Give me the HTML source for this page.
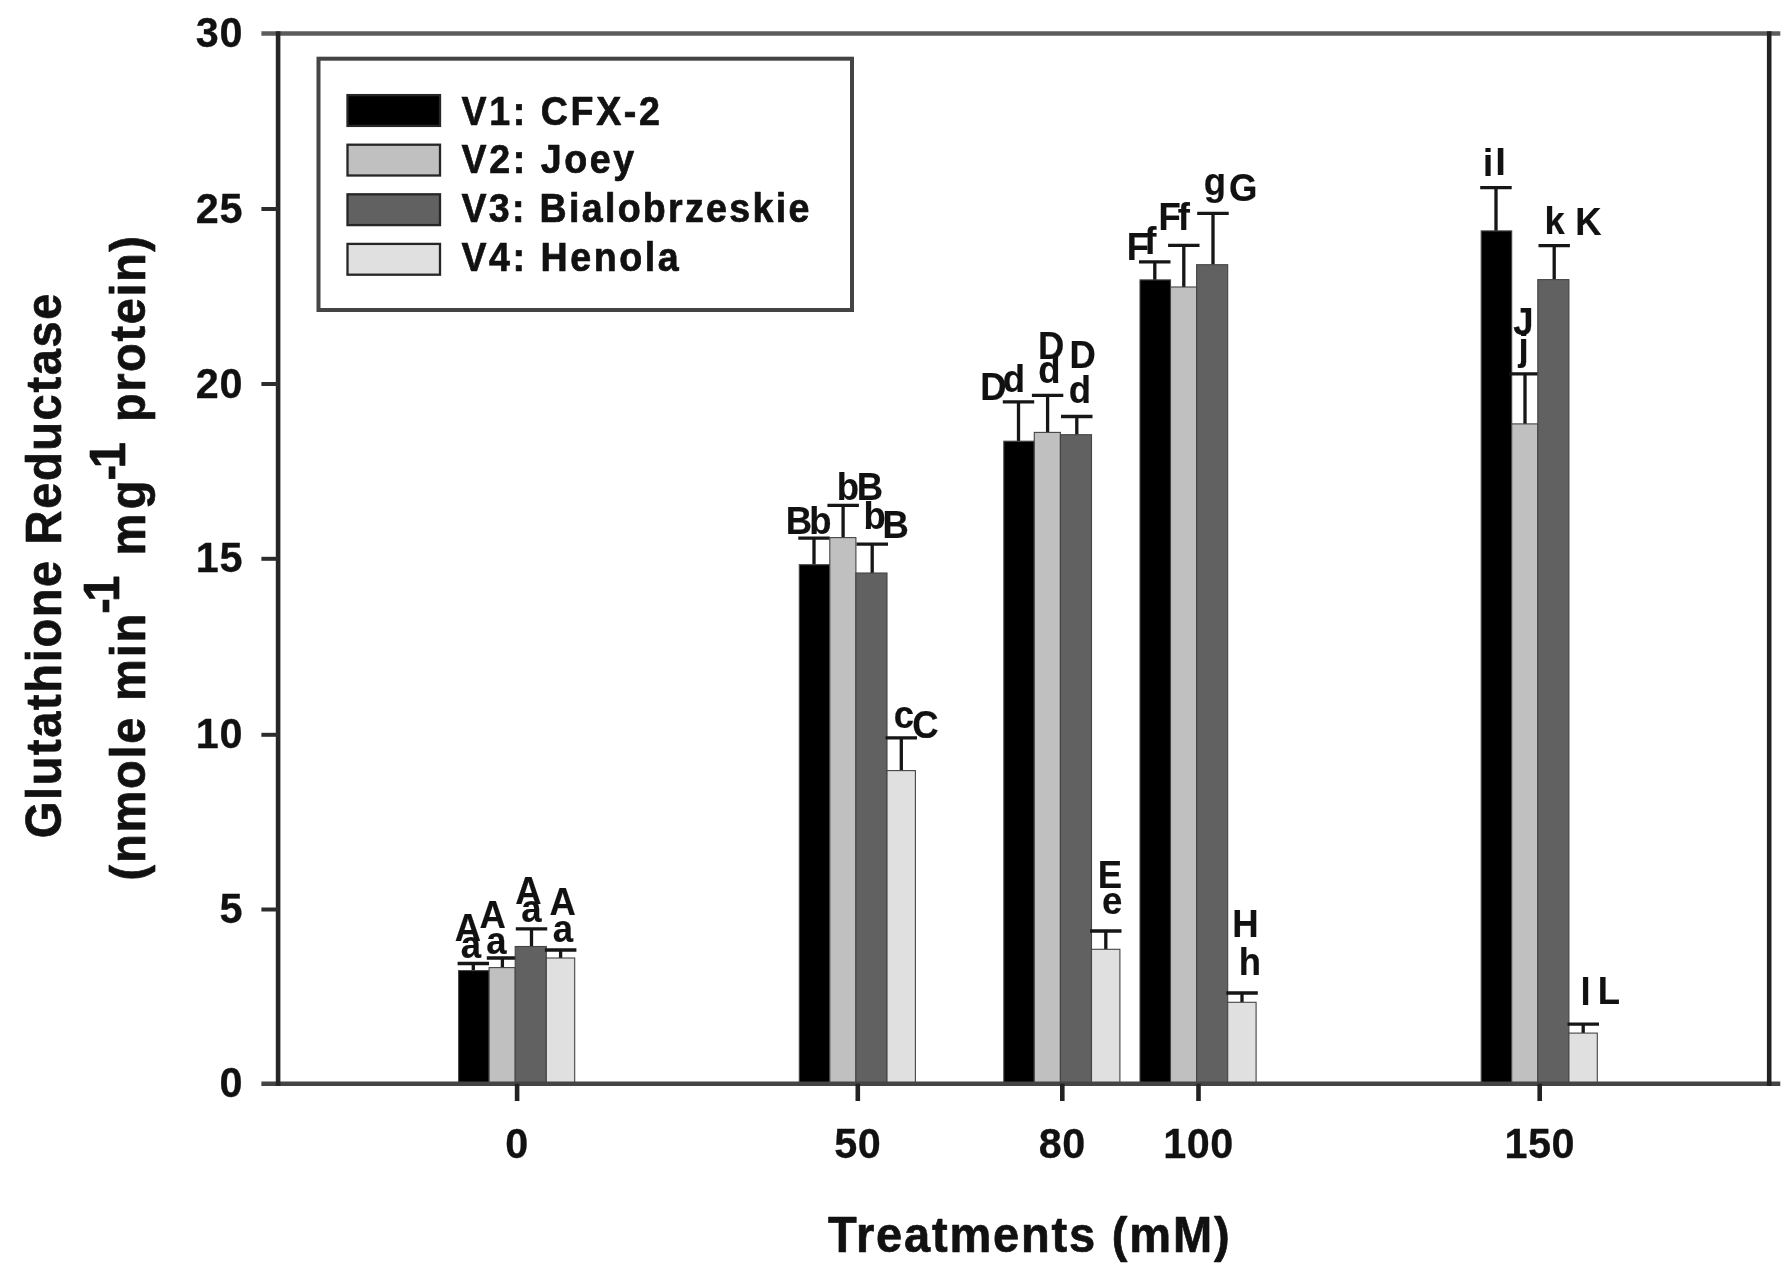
<!DOCTYPE html>
<html lang="en"><head><meta charset="utf-8"><title>Glutathione Reductase</title>
<style>html,body{margin:0;padding:0;background:#fff;}body{width:1792px;height:1276px;overflow:hidden;}svg{display:block;filter:blur(0.75px);}text{font-family:"Liberation Sans", Arial, Helvetica, sans-serif;font-weight:bold;fill:#111;stroke:#111;stroke-width:0.7px;stroke-linejoin:round;}</style>
</head><body>
<svg width="1792" height="1276" viewBox="0 0 1792 1276">
<rect width="1792" height="1276" fill="#fff"/>
<g stroke-linecap="butt">
<path d="M473.3 970.6V963.5M457.6 963.5H489.0" stroke="#161616" stroke-width="3.3" fill="none"/>
<rect x="458.6" y="970.6" width="30.5" height="113.1" fill="#000000" stroke="#444" stroke-width="1.1"/>
<path d="M814.0 564.7V538.2M798.3 538.2H829.8" stroke="#161616" stroke-width="3.3" fill="none"/>
<rect x="799.3" y="564.7" width="30.5" height="519.0" fill="#000000" stroke="#444" stroke-width="1.1"/>
<path d="M1018.5 441.2V401.8M1002.8 401.8H1034.2" stroke="#161616" stroke-width="3.3" fill="none"/>
<rect x="1003.8" y="441.2" width="30.5" height="642.5" fill="#000000" stroke="#444" stroke-width="1.1"/>
<path d="M1154.8 279.9V261.8M1139.0 261.8H1170.5" stroke="#161616" stroke-width="3.3" fill="none"/>
<rect x="1140.0" y="279.9" width="30.5" height="803.8" fill="#000000" stroke="#444" stroke-width="1.1"/>
<path d="M1496.0 230.9V187.6M1480.2 187.6H1511.7" stroke="#161616" stroke-width="3.3" fill="none"/>
<rect x="1481.2" y="230.9" width="30.5" height="852.8" fill="#000000" stroke="#444" stroke-width="1.1"/>
<path d="M502.4 967.6V958.0M486.8 958.0H518.1" stroke="#161616" stroke-width="3.3" fill="none"/>
<rect x="489.1" y="967.6" width="26.1" height="116.1" fill="#c0c0c0" stroke="#444" stroke-width="1.1"/>
<path d="M843.1 537.6V505.3M827.4 505.3H858.9" stroke="#161616" stroke-width="3.3" fill="none"/>
<rect x="829.8" y="537.6" width="26.1" height="546.1" fill="#c0c0c0" stroke="#444" stroke-width="1.1"/>
<path d="M1047.6 432.4V395.3M1031.9 395.3H1063.3" stroke="#161616" stroke-width="3.3" fill="none"/>
<rect x="1034.3" y="432.4" width="26.1" height="651.3" fill="#c0c0c0" stroke="#444" stroke-width="1.1"/>
<path d="M1183.8 287.0V245.4M1168.1 245.4H1199.5" stroke="#161616" stroke-width="3.3" fill="none"/>
<rect x="1170.5" y="287.0" width="26.1" height="796.7" fill="#c0c0c0" stroke="#444" stroke-width="1.1"/>
<path d="M1525.0 423.9V373.8M1509.3 373.8H1540.8" stroke="#161616" stroke-width="3.3" fill="none"/>
<rect x="1511.7" y="423.9" width="26.1" height="659.8" fill="#c0c0c0" stroke="#444" stroke-width="1.1"/>
<path d="M531.5 946.5V928.8M515.8 928.8H547.2" stroke="#161616" stroke-width="3.3" fill="none"/>
<rect x="515.2" y="946.5" width="31.1" height="137.2" fill="#616161" stroke="#444" stroke-width="1.1"/>
<path d="M872.2 573.0V544.1M856.5 544.1H888.0" stroke="#161616" stroke-width="3.3" fill="none"/>
<rect x="855.9" y="573.0" width="31.1" height="510.7" fill="#616161" stroke="#444" stroke-width="1.1"/>
<path d="M1076.8 434.7V416.5M1061.0 416.5H1092.5" stroke="#161616" stroke-width="3.3" fill="none"/>
<rect x="1060.4" y="434.7" width="31.1" height="649.0" fill="#616161" stroke="#444" stroke-width="1.1"/>
<path d="M1213.0 264.7V213.3M1197.2 213.3H1228.7" stroke="#161616" stroke-width="3.3" fill="none"/>
<rect x="1196.6" y="264.7" width="31.1" height="819.0" fill="#616161" stroke="#444" stroke-width="1.1"/>
<path d="M1554.2 279.6V245.7M1538.5 245.7H1569.9" stroke="#161616" stroke-width="3.3" fill="none"/>
<rect x="1537.8" y="279.6" width="31.1" height="804.1" fill="#616161" stroke="#444" stroke-width="1.1"/>
<path d="M560.6 958.0V950.0M544.9 950.0H576.4" stroke="#161616" stroke-width="3.3" fill="none"/>
<rect x="546.3" y="958.0" width="28.4" height="125.7" fill="#e0e0e0" stroke="#444" stroke-width="1.1"/>
<path d="M901.3 770.6V737.9M885.6 737.9H917.0" stroke="#161616" stroke-width="3.3" fill="none"/>
<rect x="887.0" y="770.6" width="28.4" height="313.1" fill="#e0e0e0" stroke="#444" stroke-width="1.1"/>
<path d="M1105.8 949.3V931.0M1090.1 931.0H1121.5" stroke="#161616" stroke-width="3.3" fill="none"/>
<rect x="1091.5" y="949.3" width="28.4" height="134.4" fill="#e0e0e0" stroke="#444" stroke-width="1.1"/>
<path d="M1242.0 1002.3V993.0M1226.3 993.0H1257.8" stroke="#161616" stroke-width="3.3" fill="none"/>
<rect x="1227.7" y="1002.3" width="28.4" height="81.4" fill="#e0e0e0" stroke="#444" stroke-width="1.1"/>
<path d="M1583.2 1033.1V1024.2M1567.5 1024.2H1599.0" stroke="#161616" stroke-width="3.3" fill="none"/>
<rect x="1568.9" y="1033.1" width="28.4" height="50.6" fill="#e0e0e0" stroke="#444" stroke-width="1.1"/>
</g>
<g fill="none" stroke-width="4.6">
<path d="M261.4 33.5H1780.3" stroke="#5c5c5c"/>
<path d="M261.4 1083.7H1780.3" stroke="#444"/>
<path d="M278.1 31.2V1086.0" stroke="#262626"/>
<path d="M1769.2 31.2V1086.0" stroke="#222"/>
<path d="M261.4 209.0H278.1" stroke="#2c2c2c" stroke-width="4"/>
<path d="M261.4 384.0H278.1" stroke="#2c2c2c" stroke-width="4"/>
<path d="M261.4 558.8H278.1" stroke="#2c2c2c" stroke-width="4"/>
<path d="M261.4 734.8H278.1" stroke="#2c2c2c" stroke-width="4"/>
<path d="M261.4 909.5H278.1" stroke="#2c2c2c" stroke-width="4"/>
<path d="M517.1 1083.7V1101.0" stroke="#222"/>
<path d="M857.8 1083.7V1101.0" stroke="#222"/>
<path d="M1062.3 1083.7V1101.0" stroke="#222"/>
<path d="M1198.5 1083.7V1101.0" stroke="#222"/>
<path d="M1539.7 1083.7V1101.0" stroke="#222"/>
</g>
<text transform="translate(242.4 47.0) scale(0.985 1)" font-size="42.0" text-anchor="end" textLength="47.4" lengthAdjust="spacing" style="stroke-width:.3px">30</text>
<text transform="translate(242.4 222.5) scale(0.985 1)" font-size="42.0" text-anchor="end" textLength="47.4" lengthAdjust="spacing" style="stroke-width:.3px">25</text>
<text transform="translate(242.4 397.5) scale(0.985 1)" font-size="42.0" text-anchor="end" textLength="47.4" lengthAdjust="spacing" style="stroke-width:.3px">20</text>
<text transform="translate(242.4 572.3) scale(0.985 1)" font-size="42.0" text-anchor="end" textLength="47.4" lengthAdjust="spacing" style="stroke-width:.3px">15</text>
<text transform="translate(242.4 748.3) scale(0.985 1)" font-size="42.0" text-anchor="end" textLength="47.4" lengthAdjust="spacing" style="stroke-width:.3px">10</text>
<text transform="translate(242.4 923.0) scale(0.985 1)" font-size="42.0" text-anchor="end" style="stroke-width:.3px">5</text>
<text transform="translate(242.4 1097.2) scale(0.985 1)" font-size="42.0" text-anchor="end" style="stroke-width:.3px">0</text>
<text transform="translate(516.8 1157.8) scale(0.985 1)" font-size="42.0" text-anchor="middle" style="stroke-width:.3px">0</text>
<text transform="translate(857.5 1157.8) scale(0.985 1)" font-size="42.0" text-anchor="middle" textLength="47.4" lengthAdjust="spacing" style="stroke-width:.3px">50</text>
<text transform="translate(1062.0 1157.8) scale(0.985 1)" font-size="42.0" text-anchor="middle" textLength="47.4" lengthAdjust="spacing" style="stroke-width:.3px">80</text>
<text transform="translate(1198.2 1157.8) scale(0.985 1)" font-size="42.0" text-anchor="middle" textLength="71.1" lengthAdjust="spacing" style="stroke-width:.3px">100</text>
<text transform="translate(1539.4 1157.8) scale(0.985 1)" font-size="42.0" text-anchor="middle" textLength="71.1" lengthAdjust="spacing" style="stroke-width:.3px">150</text>
<text transform="translate(1028.8 1252.0) scale(0.940 1)" font-size="50.0" text-anchor="middle" textLength="427.2" lengthAdjust="spacing">Treatments (mM)</text>
<text transform="translate(60.8 838.2) rotate(-90) scale(0.940 1)" font-size="50.0" textLength="579.3" lengthAdjust="spacing">Glutathione Reductase</text>
<text transform="translate(145.2 880.5) rotate(-90) scale(0.940 1)" font-size="50.0" textLength="283.7" lengthAdjust="spacing">(nmole min</text>
<text transform="translate(119.2 613.8) rotate(-90) scale(0.940 1)" font-size="50.0">-</text>
<text transform="translate(119.2 601.7) rotate(-90) scale(0.940 1)" font-size="50.0">1</text>
<text transform="translate(145.2 555.5) rotate(-90) scale(0.940 1)" font-size="50.0" textLength="79.8" lengthAdjust="spacing">mg</text>
<text transform="translate(125.2 480.5) rotate(-90) scale(0.940 1)" font-size="50.0">-</text>
<text transform="translate(125.2 468.3) rotate(-90) scale(0.940 1)" font-size="50.0">1</text>
<text transform="translate(145.2 422.1) rotate(-90) scale(0.940 1)" font-size="50.0" textLength="198.0" lengthAdjust="spacing">protein)</text>
<rect x="318.5" y="58.7" width="533.5" height="251.3" fill="#fff" stroke="#444" stroke-width="4"/>
<rect x="347.5" y="95.1" width="92.5" height="30.8" fill="#000000" stroke="#262626" stroke-width="2.3"/>
<text transform="translate(461.5 124.5) scale(0.940 1)" font-size="40.0" textLength="211.0" lengthAdjust="spacing">V1: CFX-2</text>
<rect x="347.5" y="144.7" width="92.5" height="30.8" fill="#c0c0c0" stroke="#262626" stroke-width="2.3"/>
<text transform="translate(461.5 173.2) scale(0.940 1)" font-size="40.0" textLength="183.8" lengthAdjust="spacing">V2: Joey</text>
<rect x="347.5" y="194.3" width="92.5" height="30.8" fill="#616161" stroke="#262626" stroke-width="2.3"/>
<text transform="translate(461.5 222.3) scale(0.940 1)" font-size="40.0" textLength="370.0" lengthAdjust="spacing">V3: Bialobrzeskie</text>
<rect x="347.5" y="243.9" width="92.5" height="30.8" fill="#e0e0e0" stroke="#262626" stroke-width="2.3"/>
<text transform="translate(461.5 271.4) scale(0.940 1)" font-size="40.0" textLength="230.9" lengthAdjust="spacing">V4: Henola</text>
<text transform="translate(468.0 940.5) scale(0.940 1)" font-size="38.8" text-anchor="middle" style="stroke-width:.2px">A</text>
<text transform="translate(471.0 958.0) scale(0.940 1)" font-size="38.8" text-anchor="middle" style="stroke-width:.2px">a</text>
<text transform="translate(492.7 928.0) scale(0.940 1)" font-size="38.8" text-anchor="middle" style="stroke-width:.2px">A</text>
<text transform="translate(496.5 954.0) scale(0.940 1)" font-size="38.8" text-anchor="middle" style="stroke-width:.2px">a</text>
<text transform="translate(528.3 904.0) scale(0.940 1)" font-size="38.8" text-anchor="middle" style="stroke-width:.2px">A</text>
<text transform="translate(531.5 922.0) scale(0.940 1)" font-size="38.8" text-anchor="middle" style="stroke-width:.2px">a</text>
<text transform="translate(562.7 915.0) scale(0.940 1)" font-size="38.8" text-anchor="middle" style="stroke-width:.2px">A</text>
<text transform="translate(563.0 942.0) scale(0.940 1)" font-size="38.8" text-anchor="middle" style="stroke-width:.2px">a</text>
<text transform="translate(798.8 534.0) scale(0.940 1)" font-size="38.8" text-anchor="middle" style="stroke-width:.2px">B</text>
<text transform="translate(820.5 534.0) scale(0.940 1)" font-size="38.8" text-anchor="middle" style="stroke-width:.2px">b</text>
<text transform="translate(848.0 500.0) scale(0.940 1)" font-size="38.8" text-anchor="middle" style="stroke-width:.2px">b</text>
<text transform="translate(870.0 500.0) scale(0.940 1)" font-size="38.8" text-anchor="middle" style="stroke-width:.2px">B</text>
<text transform="translate(874.7 528.5) scale(0.940 1)" font-size="38.8" text-anchor="middle" style="stroke-width:.2px">b</text>
<text transform="translate(895.6 538.0) scale(0.940 1)" font-size="38.8" text-anchor="middle" style="stroke-width:.2px">B</text>
<text transform="translate(903.9 728.0) scale(0.940 1)" font-size="38.8" text-anchor="middle" style="stroke-width:.2px">c</text>
<text transform="translate(925.5 738.3) scale(0.940 1)" font-size="38.8" text-anchor="middle" style="stroke-width:.2px">C</text>
<text transform="translate(993.3 400.0) scale(0.940 1)" font-size="38.8" text-anchor="middle" style="stroke-width:.2px">D</text>
<text transform="translate(1014.0 392.0) scale(0.940 1)" font-size="38.8" text-anchor="middle" style="stroke-width:.2px">d</text>
<text transform="translate(1051.2 358.5) scale(0.940 1)" font-size="38.8" text-anchor="middle" style="stroke-width:.2px">D</text>
<text transform="translate(1049.4 382.5) scale(0.940 1)" font-size="38.8" text-anchor="middle" style="stroke-width:.2px">d</text>
<text transform="translate(1082.7 368.0) scale(0.940 1)" font-size="38.8" text-anchor="middle" style="stroke-width:.2px">D</text>
<text transform="translate(1080.0 402.5) scale(0.940 1)" font-size="38.8" text-anchor="middle" style="stroke-width:.2px">d</text>
<text transform="translate(1109.8 888.0) scale(0.940 1)" font-size="38.8" text-anchor="middle" style="stroke-width:.2px">E</text>
<text transform="translate(1112.2 914.0) scale(0.940 1)" font-size="38.8" text-anchor="middle" style="stroke-width:.2px">e</text>
<text transform="translate(1138.0 259.5) scale(0.940 1)" font-size="38.8" text-anchor="middle" style="stroke-width:.2px">F</text>
<text transform="translate(1150.2 254.0) scale(0.940 1)" font-size="38.8" text-anchor="middle" style="stroke-width:.2px">f</text>
<text transform="translate(1169.6 229.5) scale(0.940 1)" font-size="38.8" text-anchor="middle" style="stroke-width:.2px">F</text>
<text transform="translate(1183.7 230.0) scale(0.940 1)" font-size="38.8" text-anchor="middle" style="stroke-width:.2px">f</text>
<text transform="translate(1215.0 195.0) scale(0.940 1)" font-size="38.8" text-anchor="middle" style="stroke-width:.2px">g</text>
<text transform="translate(1243.2 201.0) scale(0.940 1)" font-size="38.8" text-anchor="middle" style="stroke-width:.2px">G</text>
<text transform="translate(1245.5 936.5) scale(0.940 1)" font-size="38.8" text-anchor="middle" style="stroke-width:.2px">H</text>
<text transform="translate(1249.8 974.5) scale(0.940 1)" font-size="38.8" text-anchor="middle" style="stroke-width:.2px">h</text>
<text transform="translate(1488.0 175.5) scale(0.940 1)" font-size="38.8" text-anchor="middle" style="stroke-width:.2px">i</text>
<text transform="translate(1500.5 175.0) scale(0.940 1)" font-size="38.8" text-anchor="middle" style="stroke-width:.2px">I</text>
<text transform="translate(1523.3 334.5) scale(0.940 1)" font-size="38.8" text-anchor="middle" style="stroke-width:.2px">J</text>
<text transform="translate(1523.6 359.5) scale(0.940 1)" font-size="38.8" text-anchor="middle" style="stroke-width:.2px">j</text>
<text transform="translate(1554.6 234.0) scale(0.940 1)" font-size="38.8" text-anchor="middle" style="stroke-width:.2px">k</text>
<text transform="translate(1588.3 235.0) scale(0.940 1)" font-size="38.8" text-anchor="middle" style="stroke-width:.2px">K</text>
<text transform="translate(1585.5 1004.5) scale(0.940 1)" font-size="38.8" text-anchor="middle" style="stroke-width:.2px">l</text>
<text transform="translate(1608.8 1004.2) scale(0.940 1)" font-size="38.8" text-anchor="middle" style="stroke-width:.2px">L</text>
</svg>
</body></html>
